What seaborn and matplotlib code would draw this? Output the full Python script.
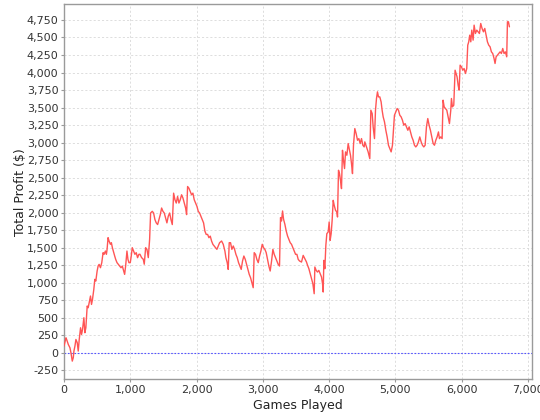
import matplotlib
matplotlib.use("Agg")
import matplotlib.pyplot as plt
import matplotlib.ticker as mticker
import seaborn as sns
import pandas as pd

games = [0, 30, 40, 65, 90, 105, 125, 140, 150, 165, 180, 200, 215, 230, 250, 265, 280, 300, 315, 330,
         350, 365, 380, 400, 415, 430, 450, 465, 480, 500, 515, 530, 550, 570, 590, 605, 625, 640, 650, 665,
         680, 700, 715, 730, 750, 765, 780, 800, 820, 840, 860, 880, 900, 915, 930, 950, 965, 980, 1000, 1015,
         1030, 1050, 1070, 1090, 1110, 1130,
         1146, 1171, 1196, 1211, 1232, 1252, 1272, 1292, 1307, 1332, 1352, 1372, 1392, 1413, 1433, 1453, 1473,
         1493, 1513, 1533, 1553, 1573, 1594, 1614, 1634, 1654, 1674, 1694, 1714, 1734, 1754, 1774, 1795, 1815,
         1835, 1850, 1865, 1885, 1905, 1925, 1945, 1965, 1986, 2006, 2026, 2046, 2066, 2086, 2106, 2126, 2146,
         2167, 2187, 2207, 2227, 2247, 2267, 2287, 2307, 2327, 2348,
         2378, 2403, 2428, 2443, 2463, 2478, 2493, 2513, 2533, 2554, 2574, 2594, 2614, 2634, 2654, 2674, 2694,
         2714, 2735, 2755, 2775, 2795, 2815, 2835, 2855, 2870, 2890, 2910, 2931, 2951, 2971, 2991, 3011, 3031,
         3051, 3071, 3091, 3111, 3132, 3152, 3172, 3192, 3212, 3232, 3252, 3267, 3282, 3298, 3313, 3333, 3353,
         3373, 3393, 3413, 3433, 3453, 3473, 3494, 3514, 3534, 3554,
         3584, 3609, 3634, 3659, 3675, 3695, 3715, 3735, 3755, 3775, 3785, 3805, 3825, 3845, 3866, 3886, 3901,
         3911, 3921, 3936, 3951, 3966, 3986, 4001, 4016, 4031, 4046, 4062, 4077, 4097, 4117, 4127, 4142, 4157,
         4172, 4187, 4202, 4217, 4233, 4248, 4268, 4288, 4308, 4323, 4338, 4353, 4368, 4388, 4408, 4429, 4449,
         4469, 4489, 4509, 4529,
         4539, 4564, 4589, 4614, 4630, 4650, 4665, 4685, 4700, 4715, 4730, 4745, 4765, 4785, 4800, 4816, 4836,
         4856, 4876, 4896, 4916, 4936, 4956, 4971, 4986, 5007, 5027, 5047, 5067, 5087, 5107, 5127, 5147, 5167,
         5188, 5208, 5228, 5248, 5268, 5288, 5308, 5328, 5348, 5368, 5389, 5409, 5429, 5449, 5469, 5489, 5509,
         5529, 5549, 5570, 5590, 5610, 5630, 5650,
         5665, 5685, 5705, 5720, 5736, 5756, 5776, 5796, 5816, 5836, 5846, 5861, 5881, 5901, 5916, 5931, 5947,
         5962, 5977, 5997, 6017, 6037, 6057, 6077, 6092, 6107, 6122, 6138, 6153, 6173, 6188, 6208, 6228, 6248,
         6268, 6288, 6308, 6329, 6349, 6369, 6389, 6409, 6429, 6449, 6469, 6489, 6504, 6520, 6540, 6560, 6580,
         6600, 6620, 6640, 6660, 6680, 6691, 6706, 6721]

profit = [95, 214, 190, 119, 71, 0, -119, -71, 24, 95, 190, 143, 24, 190, 357, 262, 333, 500, 286, 357,
          667, 643, 714, 810, 690, 762, 905, 1048, 1024, 1167, 1238, 1262, 1214, 1286, 1429, 1405, 1452, 1405, 1476, 1643,
          1595, 1548, 1571, 1500, 1429, 1381, 1333, 1286, 1262, 1238, 1214, 1238, 1167, 1119, 1238, 1452, 1333, 1286, 1286, 1381,
          1500, 1452, 1405, 1429, 1357, 1405,
          1406, 1358, 1335, 1264, 1500, 1476, 1358, 1618, 1995, 2019, 1995, 1901, 1854, 1830, 1901, 1972, 2066,
          2019, 1995, 1925, 1854, 1948, 1995, 1901, 1830, 2278, 2184, 2137, 2231, 2137, 2184, 2255, 2208, 2137,
          2066, 1972, 2373, 2349, 2302, 2255, 2278, 2184, 2137, 2090, 2019, 1995, 1948, 1901, 1854, 1736, 1689,
          1689, 1642, 1665, 1594, 1547, 1524, 1500, 1476, 1524, 1571,
          1595, 1548, 1452, 1357, 1286, 1190, 1571, 1571, 1476, 1524, 1476, 1405, 1357, 1286, 1238, 1190, 1310,
          1381, 1333, 1262, 1190, 1119, 1071, 1000, 929, 1429, 1405, 1333, 1286, 1381, 1452, 1548, 1500, 1476,
          1429, 1333, 1238, 1167, 1310, 1476, 1405, 1357, 1310, 1262, 1238, 1929, 1881, 2024, 1905, 1833, 1738,
          1667, 1619, 1571, 1548, 1500, 1452, 1405, 1405, 1333, 1310,
          1295, 1390, 1343, 1295, 1248, 1200, 1129, 1057, 986, 843, 1224, 1176, 1152, 1176, 1129, 1081, 986,
          867, 1319, 1200, 1533, 1700, 1724, 1867, 1605, 1700, 1890, 2176, 2105, 2033, 2009, 1938, 2605, 2557,
          2462, 2343, 2890, 2748, 2629, 2867, 2819, 2986, 2890, 2819, 2700, 2557, 2962, 3200, 3129, 3033, 3057,
          2986, 3057, 2962, 2938,
          3010, 2938, 2867, 2771, 3462, 3414, 3224, 3057, 3462, 3628, 3724, 3652, 3652, 3581, 3462, 3367, 3295,
          3176, 3081, 2962, 2914, 2867, 2962, 3176, 3390, 3438, 3486, 3462, 3390, 3367, 3319, 3248, 3271, 3224,
          3176, 3224, 3152, 3081, 3033, 2962, 2938, 2962, 3010, 3081, 3010, 2962, 2938, 2962, 3224, 3343, 3248,
          3176, 3081, 2986, 2962, 3033, 3081, 3152,
          3057, 3081, 3057, 3605, 3510, 3486, 3462, 3367, 3271, 3462, 3629, 3510, 3533, 4033, 3986, 3938, 3819,
          3748, 4105, 4081, 4033, 4057, 3986, 4057, 4390, 4438, 4533, 4438, 4605, 4462, 4676, 4557, 4605, 4581,
          4557, 4700, 4629, 4581, 4629, 4533, 4438, 4390, 4367, 4295, 4271, 4200, 4129, 4224, 4248, 4271, 4295,
          4271, 4343, 4271, 4295, 4224, 4724, 4724, 4652]

x_ticks = list(range(0, 7001, 1000))
y_ticks = list(range(-250, 4751, 250))

df = pd.DataFrame({"Games Played": games, "Total Profit ($)": profit})

sns.set_theme(style="white")
plt.rcParams["font.family"] = ["DejaVu Sans"]

fig = plt.figure(figsize=(5.4, 4.2), dpi=100)
ax = fig.add_axes([0.1185, 0.0975, 0.8665, 0.8925])

ax.set_xlim(0, 7060)
ax.set_ylim(-375, 4975)
ax.set_xticks(x_ticks)
ax.set_yticks(y_ticks)
ax.xaxis.set_major_formatter(mticker.FuncFormatter(lambda v, p: f"{int(v):,}"))
ax.yaxis.set_major_formatter(mticker.FuncFormatter(lambda v, p: f"{int(v):,}"))

ax.grid(True, color="#d8d8d8", linestyle=(0, (2.5, 2.5)), linewidth=0.6)
ax.set_axisbelow(True)

ax.axhline(0, color="#5555ff", linestyle=(0, (1.5, 1.5)), linewidth=0.8, zorder=2)

sns.lineplot(data=df, x="Games Played", y="Total Profit ($)", ax=ax, color="#ff5555",
             linewidth=1.0, estimator=None, sort=False, zorder=3)

for s in ax.spines.values():
    s.set_color("#9a9a9a")
    s.set_linewidth(1.0)

ax.tick_params(axis="both", which="major", labelsize=8, colors="#9a9a9a",
               labelcolor="#333333", length=2, width=0.8, pad=2, direction="out")
ax.tick_params(axis="x", bottom=True)
ax.tick_params(axis="y", left=True)
ax.set_xlabel("Games Played", fontsize=9, color="#222222", labelpad=3)
ax.set_ylabel("Total Profit ($)", fontsize=9, color="#222222")
ax.yaxis.set_label_coords(-0.08, 0.5)

fig.savefig("out.png", dpi=100, facecolor="white")
